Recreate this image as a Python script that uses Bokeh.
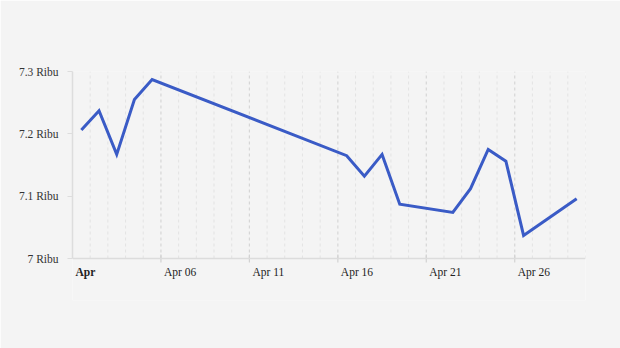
import math
import pandas as pd
from bokeh.plotting import figure
from bokeh.models import Range1d, FixedTicker, ColumnDataSource, Span
from bokeh.core.properties import value
from bokeh.embed import file_html
from bokeh.resources import INLINE

# data
dates = ["2024-04-01 12:00", "2024-04-02 12:00", "2024-04-03 12:00", "2024-04-04 12:00",
         "2024-04-05 12:00", "2024-04-16 12:00", "2024-04-17 12:00", "2024-04-18 12:00",
         "2024-04-19 12:00", "2024-04-22 12:00", "2024-04-23 12:00", "2024-04-24 12:00",
         "2024-04-25 12:00", "2024-04-26 12:00", "2024-04-29 12:00"]
values = [7206, 7237, 7167, 7255, 7287, 7165, 7132, 7167, 7087, 7074, 7112, 7175, 7156, 7037, 7096]

y_ticks = [7000, 7100, 7200, 7300]
y_tick_labels = ["7 Ribu", "7.1 Ribu", "7.2 Ribu", "7.3 Ribu"]
x_tick_dates = ["2024-04-01", "2024-04-06", "2024-04-11", "2024-04-16", "2024-04-21", "2024-04-26"]
x_tick_labels = ["Apr", "Apr 06", "Apr 11", "Apr 16", "Apr 21", "Apr 26"]
x_tick_styles = ["bold", "normal", "normal", "normal", "normal", "normal"]
x_start, x_end = "2024-04-01", "2024-04-30"

FONT = "Liberation Serif"
BG = "#f4f4f4"

def ms(t):
    return pd.Timestamp(t).value / 1e6

xs = [ms(d) for d in dates]
y_lo, y_hi = y_ticks[0], y_ticks[-1]
# frame extends below the value axis to hold the date labels
y_min = y_lo - (y_hi - y_lo) * 42 / 187

p = figure(width=620, height=348, x_axis_type="datetime",
           x_range=Range1d(ms(x_start), ms(x_end)), y_range=Range1d(y_min, y_hi),
           output_backend="svg", toolbar_location=None,
           min_border_left=72, min_border_right=35, min_border_top=71, min_border_bottom=48,
           background_fill_color=BG, border_fill_color=BG, outline_line_color=None)

p.xaxis.visible = False
p.xgrid.grid_line_color = None
p.ygrid.grid_line_color = None

# day grid lines
days = [ms(d) for d in pd.date_range(x_start, x_end, freq="D")]
major = [ms(d) for d in x_tick_dates]
minor_days = [d for d in days[1:] if d not in major]
p.segment(x0=minor_days, y0=[y_lo] * len(minor_days), x1=minor_days, y1=[y_hi] * len(minor_days),
          line_color="#e3e3e3", line_width=1, line_dash="3 3")
p.segment(x0=major[1:], y0=[y_lo] * (len(major) - 1), x1=major[1:], y1=[y_hi] * (len(major) - 1),
          line_color="#d6d6d6", line_width=1.2, line_dash="3 3")

# x axis line and ticks
p.add_layout(Span(location=y_lo, dimension="width", line_color="#dcdcdc", line_width=1.5))
p.scatter(x=major[1:], y=[y_lo] * (len(major) - 1), marker="dash", angle=math.pi / 2,
          size=8, line_color="#d2d2d2", line_width=1.2)

# x labels
src = ColumnDataSource(dict(x=major, y=[y_lo] * len(major), text=x_tick_labels, style=x_tick_styles))
p.text(x="x", y="y", text="text", source=src, x_offset=3, y_offset=7,
       text_font=value(FONT), text_font_size="11.5px", text_color="#222222",
       text_font_style="style", text_align="left", text_baseline="top")

# y axis
p.yaxis.ticker = FixedTicker(ticks=y_ticks)
p.yaxis.bounds = (y_lo, y_hi)
p.yaxis.major_label_overrides = {t: l for t, l in zip(y_ticks, y_tick_labels)}
p.yaxis.major_label_text_font = FONT
p.yaxis.major_label_text_font_size = "11.5px"
p.yaxis.major_label_text_color = "#333333"
p.yaxis.axis_line_color = "#dddddd"
p.yaxis.axis_line_width = 1.5
p.yaxis.major_tick_line_color = "#dddddd"
p.yaxis.major_tick_out = 5
p.yaxis.major_tick_in = 0
p.yaxis.minor_tick_line_color = None
p.yaxis.major_label_standoff = 9

p.line(xs, values, line_color="#3a5bc6", line_width=3, line_join="miter")

open("out.html", "w").write(file_html(p, INLINE))
